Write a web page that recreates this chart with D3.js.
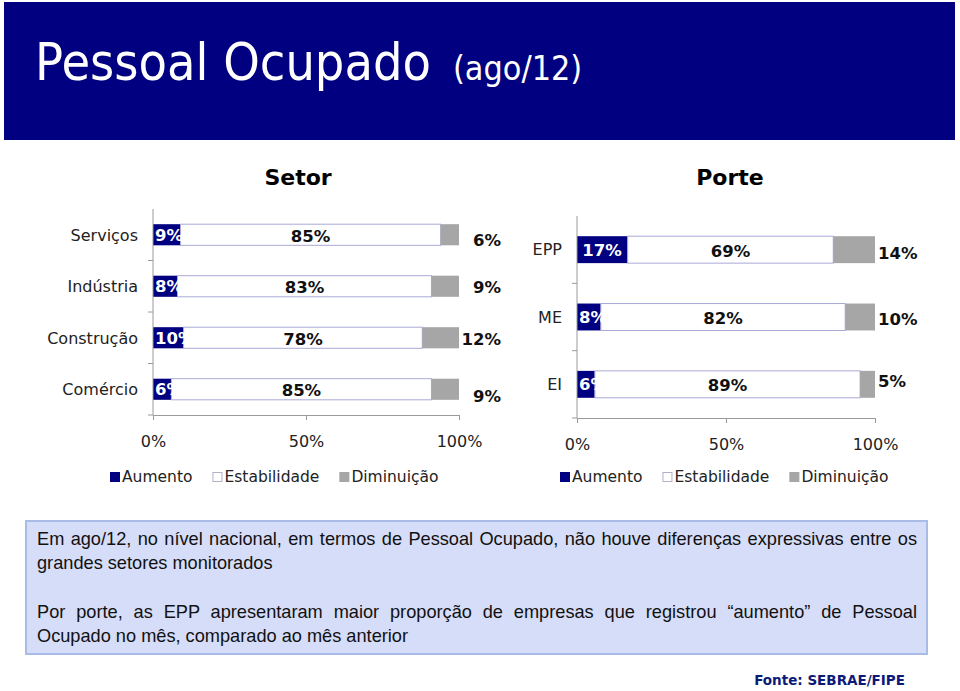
<!DOCTYPE html>
<html>
<head>
<meta charset="utf-8">
<script src="https://cdn.jsdelivr.net/npm/d3@7"></script>
<style>
  body { margin: 0; background: #fff; }
  svg { display: block; }
</style>
</head>
<body>
<div id="container"></div>
<script>
// data
let seriesNames = ["Aumento", "Estabilidade", "Diminuição"];

let setorCats = ["Serviços", "Indústria", "Construção", "Comércio"];
let setorAumento = [9, 8, 10, 6];
let setorEstabilidade = [85, 83, 78, 85];
let setorDiminuicao = [6, 9, 12, 9];

let porteCats = ["EPP", "ME", "EI"];
let porteAumento = [17, 8, 6];
let porteEstabilidade = [69, 82, 89];
let porteDiminuicao = [14, 10, 5];

let xTicks = [0, 50, 100];

let noteLines = [
  "Em ago/12, no nível nacional, em termos de Pessoal Ocupado, não houve diferenças expressivas entre os",
  "grandes setores monitorados",
  "Por porte, as EPP apresentaram maior proporção de empresas que registrou “aumento” de Pessoal",
  "Ocupado no mês, comparado ao mês anterior"
];

let w = 960;
let h = 691;
let navy = "#000080";
let colors = { "Aumento": navy, "Estabilidade": "#ffffff", "Diminuição": "#a6a6a6" };
let font = "'DejaVu Sans', Verdana, sans-serif";

let viz = d3.select("#container")
  .append("svg")
  .attr("width", w)
  .attr("height", h)
  .style("font-family", font);

// header (title is narrow in the original, squeeze it horizontally)
viz.append("rect")
  .attr("x", 4).attr("y", 2).attr("width", 951).attr("height", 138)
  .attr("fill", navy);

let titleG = viz.append("g")
  .attr("transform", "translate(35,80) scale(0.895,1)");
titleG.append("text")
  .attr("x", 0).attr("y", 0)
  .attr("fill", "#fff")
  .attr("font-size", 52)
  .text("Pessoal Ocupado");
titleG.append("text")
  .attr("x", 467).attr("y", 0)
  .attr("fill", "#fff")
  .attr("font-size", 34)
  .text("(ago/12)");

function drawChart(cfg) {
  let g = viz.append("g");

  let xScale = d3.scaleLinear().domain([0, 100]).range([cfg.x0, cfg.x1]);
  let yScale = d3.scaleBand().domain(cfg.cats)
    .range([cfg.y0, cfg.y1])
    .paddingInner(cfg.pad).paddingOuter(cfg.pad / 2);

  let rows = cfg.cats.map(function (c, i) {
    return { cat: c, "Aumento": cfg.a[i], "Estabilidade": cfg.e[i], "Diminuição": cfg.d[i] };
  });
  let stacked = d3.stack().keys(seriesNames)(rows);

  // heading
  g.append("text")
    .attr("x", cfg.headX).attr("y", 185)
    .attr("text-anchor", "middle")
    .attr("font-size", 22).attr("font-weight", "bold")
    .attr("fill", "#000")
    .text(cfg.heading);

  // bars
  stacked.forEach(function (layer) {
    g.append("g").selectAll("rect")
      .data(layer)
      .join("rect")
      .attr("x", d => xScale(d[0]))
      .attr("y", d => yScale(d.data.cat))
      .attr("width", d => xScale(d[1]) - xScale(d[0]))
      .attr("height", yScale.bandwidth())
      .attr("fill", colors[layer.key])
      .attr("stroke", layer.key === "Estabilidade" ? "#a9a9d6" : "none")
      .attr("stroke-width", 1);
  });

  // value labels
  let aLayer = stacked[0], eLayer = stacked[1], dLayer = stacked[2];
  g.append("g").selectAll("text")
    .data(aLayer)
    .join("text")
    .attr("x", function (d) {
      let mid = (xScale(d[0]) + xScale(d[1])) / 2;
      return Math.max(mid - 20, xScale(d[0]) + 2);
    })
    .attr("y", d => yScale(d.data.cat) + yScale.bandwidth() / 2)
    .attr("dy", "0.36em")
    .attr("font-size", 16.5).attr("font-weight", "bold")
    .attr("fill", "#fff")
    .text(d => (d[1] - d[0]) + "%");

  g.append("g").selectAll("text")
    .data(eLayer)
    .join("text")
    .attr("x", d => (xScale(d[0]) + xScale(d[1])) / 2)
    .attr("y", d => yScale(d.data.cat) + yScale.bandwidth() / 2 + 1)
    .attr("dy", "0.36em")
    .attr("text-anchor", "middle")
    .attr("font-size", 16.5).attr("font-weight", "bold")
    .attr("fill", "#111")
    .text(d => (d[1] - d[0]) + "%");

  g.append("g").selectAll("text")
    .data(dLayer)
    .join("text")
    .attr("x", xScale(100) + cfg.dimOffset)
    .attr("y", (d, i) => yScale(d.data.cat) + yScale.bandwidth() / 2 + cfg.dimShift[i])
    .attr("dy", "0.36em")
    .attr("text-anchor", cfg.dimAnchor)
    .attr("font-size", 16.5).attr("font-weight", "bold")
    .attr("fill", "#111")
    .text(d => (d[1] - d[0]) + "%");

  // category axis
  g.append("line")
    .attr("x1", cfg.x0).attr("x2", cfg.x0)
    .attr("y1", cfg.y0).attr("y2", cfg.y1)
    .attr("stroke", "#9a9a9a");
  g.append("g").selectAll("line")
    .data(d3.range(1, cfg.cats.length + 1))
    .join("line")
    .attr("x1", cfg.x0 - 5).attr("x2", cfg.x0)
    .attr("y1", i => cfg.y0 + i * yScale.step())
    .attr("y2", i => cfg.y0 + i * yScale.step())
    .attr("stroke", "#9a9a9a");
  g.append("g").selectAll("text")
    .data(cfg.cats)
    .join("text")
    .attr("x", cfg.x0 - 15)
    .attr("y", d => yScale(d) + yScale.bandwidth() / 2)
    .attr("dy", "0.36em")
    .attr("text-anchor", "end")
    .attr("font-size", 16)
    .attr("fill", "#222")
    .text(d => d);

  // value axis
  let xAxisGroup = g.append("g")
    .attr("transform", "translate(0," + cfg.y1 + ")")
    .call(d3.axisBottom(xScale).tickValues(xTicks).tickSize(5).tickSizeOuter(0)
      .tickPadding(16).tickFormat(d => d + "%"));
  xAxisGroup.select(".domain").attr("stroke", "#9a9a9a");
  xAxisGroup.selectAll(".tick line").attr("stroke", "#9a9a9a");
  xAxisGroup.selectAll("text")
    .attr("font-size", 16).attr("fill", "#222")
    .style("font-family", font);

  // legend
  let lx = cfg.legendX;
  seriesNames.forEach(function (name) {
    g.append("rect")
      .attr("x", lx + 0.5).attr("y", 472.5)
      .attr("width", 9).attr("height", 9)
      .attr("fill", colors[name])
      .attr("stroke", name === "Estabilidade" ? "#b0b0c8" : colors[name]);
    let t = g.append("text")
      .attr("x", lx + 12).attr("y", 482)
      .attr("font-size", 15.5).attr("fill", "#222")
      .text(name);
    lx += 12 + t.node().getComputedTextLength() + 20;
  });
}

drawChart({
  heading: "Setor", headX: 298,
  cats: setorCats, a: setorAumento, e: setorEstabilidade, d: setorDiminuicao,
  x0: 153, x1: 459, y0: 209, y1: 415, pad: 0.59,
  dimOffset: 42, dimAnchor: "end", dimShift: [5, 1, 1, 7],
  legendX: 110
});

drawChart({
  heading: "Porte", headX: 730,
  cats: porteCats, a: porteAumento, e: porteEstabilidade, d: porteDiminuicao,
  x0: 577, x1: 875, y0: 216, y1: 418, pad: 0.6,
  dimOffset: 3, dimAnchor: "start", dimShift: [3, 2, -3],
  legendX: 560
});

// note box
viz.append("rect")
  .attr("x", 26).attr("y", 521).attr("width", 901).attr("height", 133)
  .attr("fill", "#d6ddf8")
  .attr("stroke", "#a9bce6").attr("stroke-width", 2);

let noteY = [545, 569, 618, 642];
let justify = [true, false, true, false];
noteLines.forEach(function (line, i) {
  let t = viz.append("text")
    .attr("x", 37).attr("y", noteY[i])
    .attr("font-size", 18.2).attr("fill", "#111")
    .style("font-family", "'Liberation Sans', Arial, sans-serif")
    .text(line);
  if (justify[i]) {
    let natural = t.node().getComputedTextLength();
    let spaces = line.split(" ").length - 1;
    t.attr("word-spacing", (880 - natural) / spaces);
  }
});

viz.append("text")
  .attr("x", 905).attr("y", 685)
  .attr("text-anchor", "end")
  .attr("font-size", 13.5).attr("font-weight", "bold")
  .attr("fill", "#0d1a78")
  .text("Fonte: SEBRAE/FIPE");
</script>
</body>
</html>
